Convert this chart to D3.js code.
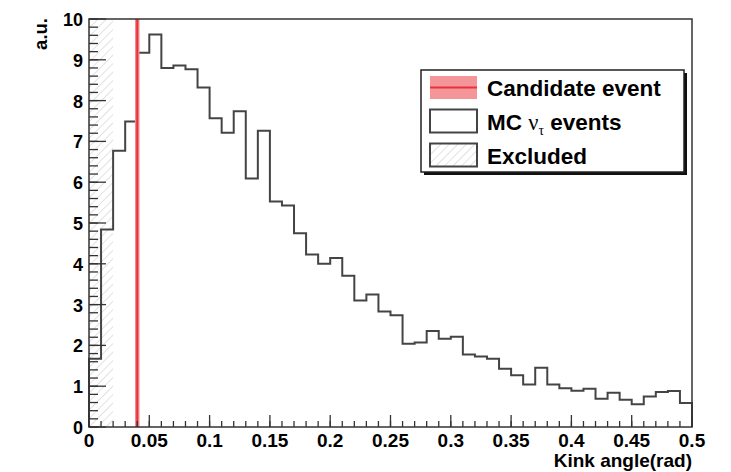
<!DOCTYPE html>
<html lang="en">
<head>
  <meta charset="UTF-8">
  <title>Kink angle</title>
  <script src="https://d3js.org/d3.v7.min.js"></script>
  <style>
    body { margin: 0; background: #fff; }
    svg { display: block; font-family: "Liberation Sans", Arial, Helvetica, sans-serif; font-weight: bold; }
  </style>
</head>
<body>
<script>
// histogram of MC nu_tau events, 50 bins of 0.01 rad
var binEdges = d3.range(0, 0.5001, 0.01).map(function(d) { return +d.toFixed(2); });
var mcValues = [1.67, 4.84, 6.77, 7.49, 9.17, 9.62, 8.80, 8.86, 8.77, 8.32,
                7.57, 7.21, 7.74, 6.09, 7.26, 5.53, 5.43, 4.75, 4.23, 4.00,
                4.14, 3.71, 3.10, 3.25, 2.83, 2.74, 2.04, 2.07, 2.35, 2.16,
                2.21, 1.78, 1.73, 1.67, 1.43, 1.27, 1.04, 1.45, 1.04, 0.95,
                0.89, 0.94, 0.69, 0.84, 0.67, 0.56, 0.75, 0.86, 0.88, 0.59];
var candidateAngle = 0.04;
var excludedRange = [0, 0.02];
var xTicks = [0, 0.05, 0.1, 0.15, 0.2, 0.25, 0.3, 0.35, 0.4, 0.45, 0.5];
var yTicks = [0, 1, 2, 3, 4, 5, 6, 7, 8, 9, 10];
var legendLabels = ["Candidate event", "MC", "Excluded"];

var W = 731, H = 472;
var margin = {top: 19, right: 39, bottom: 45, left: 89};
var width = W - margin.left - margin.right;
var height = H - margin.top - margin.bottom;

var svg = d3.select("body").append("svg")
    .attr("width", W)
    .attr("height", H);

var defs = svg.append("defs");
var hatch = defs.append("pattern")
    .attr("id", "hatch")
    .attr("patternUnits", "userSpaceOnUse")
    .attr("width", 6).attr("height", 6)
    .attr("patternTransform", "rotate(45)");
hatch.append("line")
    .attr("x1", 0).attr("y1", 0).attr("x2", 0).attr("y2", 6)
    .attr("stroke", "#cfcfcf").attr("stroke-width", 1.2);

var g = svg.append("g")
    .attr("transform", "translate(" + margin.left + "," + margin.top + ")");

var x = d3.scaleLinear().domain([0, 0.5]).range([0, width]);
var y = d3.scaleLinear().domain([0, 10]).range([height, 0]);

// excluded region
g.append("rect")
    .attr("x", x(excludedRange[0]))
    .attr("y", 0)
    .attr("width", x(excludedRange[1]) - x(excludedRange[0]))
    .attr("height", height)
    .attr("fill", "url(#hatch)");

// histogram outline
var pts = [[x(0), y(0)]];
mcValues.forEach(function(v, i) {
  pts.push([x(binEdges[i]), y(v)]);
  pts.push([x(binEdges[i + 1]), y(v)]);
});
pts.push([x(0.5), y(0)]);
g.append("path")
    .attr("d", d3.line()(pts))
    .attr("fill", "none")
    .attr("stroke", "#444")
    .attr("stroke-width", 2);

// candidate event
g.append("line")
    .attr("x1", x(candidateAngle)).attr("x2", x(candidateAngle))
    .attr("y1", 0).attr("y2", height)
    .attr("stroke", "#f38a8e").attr("stroke-width", 4.5);
g.append("line")
    .attr("x1", x(candidateAngle)).attr("x2", x(candidateAngle))
    .attr("y1", 0).attr("y2", height)
    .attr("stroke", "#e8333b").attr("stroke-width", 2);

// axes ticks (inside the frame, ROOT style)
var xMinor = d3.range(0, 0.5001, 0.01);
g.selectAll(".xminor").data(xMinor).enter().append("line")
    .attr("x1", function(d) { return x(d); }).attr("x2", function(d) { return x(d); })
    .attr("y1", height).attr("y2", height - 6)
    .attr("stroke", "#333").attr("stroke-width", 1.3);
g.selectAll(".xmajor").data(xTicks).enter().append("line")
    .attr("x1", function(d) { return x(d); }).attr("x2", function(d) { return x(d); })
    .attr("y1", height).attr("y2", height - 12)
    .attr("stroke", "#333").attr("stroke-width", 1.3);
var yMinor = d3.range(0, 10.001, 0.2);
g.selectAll(".yminor").data(yMinor).enter().append("line")
    .attr("x1", 0).attr("x2", 9)
    .attr("y1", function(d) { return y(d); }).attr("y2", function(d) { return y(d); })
    .attr("stroke", "#333").attr("stroke-width", 1.3);
g.selectAll(".ymajor").data(yTicks).enter().append("line")
    .attr("x1", 0).attr("x2", 17)
    .attr("y1", function(d) { return y(d); }).attr("y2", function(d) { return y(d); })
    .attr("stroke", "#333").attr("stroke-width", 1.3);

// frame
g.append("rect")
    .attr("x", 0).attr("y", 0)
    .attr("width", width).attr("height", height)
    .attr("fill", "none")
    .attr("stroke", "#333").attr("stroke-width", 1.5);

// tick labels
g.selectAll(".xlab").data(xTicks).enter().append("text")
    .attr("x", function(d) { return x(d); })
    .attr("y", height + 20)
    .attr("text-anchor", "middle")
    .style("font-size", "19px")
    .text(function(d) { return d; });
g.selectAll(".ylab").data(yTicks).enter().append("text")
    .attr("x", -6)
    .attr("y", function(d) { return y(d) + 7; })
    .attr("text-anchor", "end")
    .style("font-size", "18px")
    .text(function(d) { return d; });

// axis titles
g.append("text")
    .attr("x", width)
    .attr("y", height + 40)
    .attr("text-anchor", "end")
    .style("font-size", "19px")
    .text("Kink angle(rad)");
svg.append("text")
    .attr("transform", "translate(47,18) rotate(-90)")
    .attr("text-anchor", "end")
    .style("font-size", "18.5px")
    .text("a.u.");

// legend
var lg = svg.append("g").attr("transform", "translate(421,70)");
lg.append("rect")
    .attr("x", 3).attr("y", 3).attr("width", 263).attr("height", 102)
    .attr("fill", "#111");
lg.append("rect")
    .attr("x", 0).attr("y", 0).attr("width", 263).attr("height", 102)
    .attr("fill", "#fff").attr("stroke", "#222").attr("stroke-width", 1.5);

var rowY = [17.5, 51, 85];
// candidate symbol
lg.append("rect")
    .attr("x", 9).attr("y", rowY[0] - 11.5).attr("width", 47).attr("height", 23)
    .attr("fill", "#f4959a");
lg.append("line")
    .attr("x1", 9).attr("x2", 56).attr("y1", rowY[0]).attr("y2", rowY[0])
    .attr("stroke", "#e8333b").attr("stroke-width", 2);
// MC symbol
lg.append("rect")
    .attr("x", 9).attr("y", rowY[1] - 11.5).attr("width", 47).attr("height", 23)
    .attr("fill", "#fff").attr("stroke", "#444").attr("stroke-width", 2);
// excluded symbol
lg.append("rect")
    .attr("x", 9).attr("y", rowY[2] - 11.5).attr("width", 47).attr("height", 23)
    .attr("fill", "url(#hatch)").attr("stroke", "#444").attr("stroke-width", 2);

lg.append("text")
    .attr("x", 66).attr("y", rowY[0] + 8.5)
    .style("font-size", "22.5px")
    .text(legendLabels[0]);
var mc = lg.append("text")
    .attr("x", 66).attr("y", rowY[1] + 8.5)
    .style("font-size", "22.5px");
mc.append("tspan").text(legendLabels[1] + " ");
mc.append("tspan")
    .style("font-family", "'Liberation Serif', 'Times New Roman', serif")
    .style("font-weight", "normal")
    .text("\u03bd");
mc.append("tspan")
    .attr("dy", 5)
    .style("font-family", "'Liberation Serif', 'Times New Roman', serif")
    .style("font-weight", "normal")
    .style("font-size", "14px")
    .text("\u03c4");
mc.append("tspan")
    .attr("dy", -5)
    .text(" events");
lg.append("text")
    .attr("x", 66).attr("y", rowY[2] + 8.5)
    .style("font-size", "22.5px")
    .text(legendLabels[2]);
</script>
</body>
</html>
